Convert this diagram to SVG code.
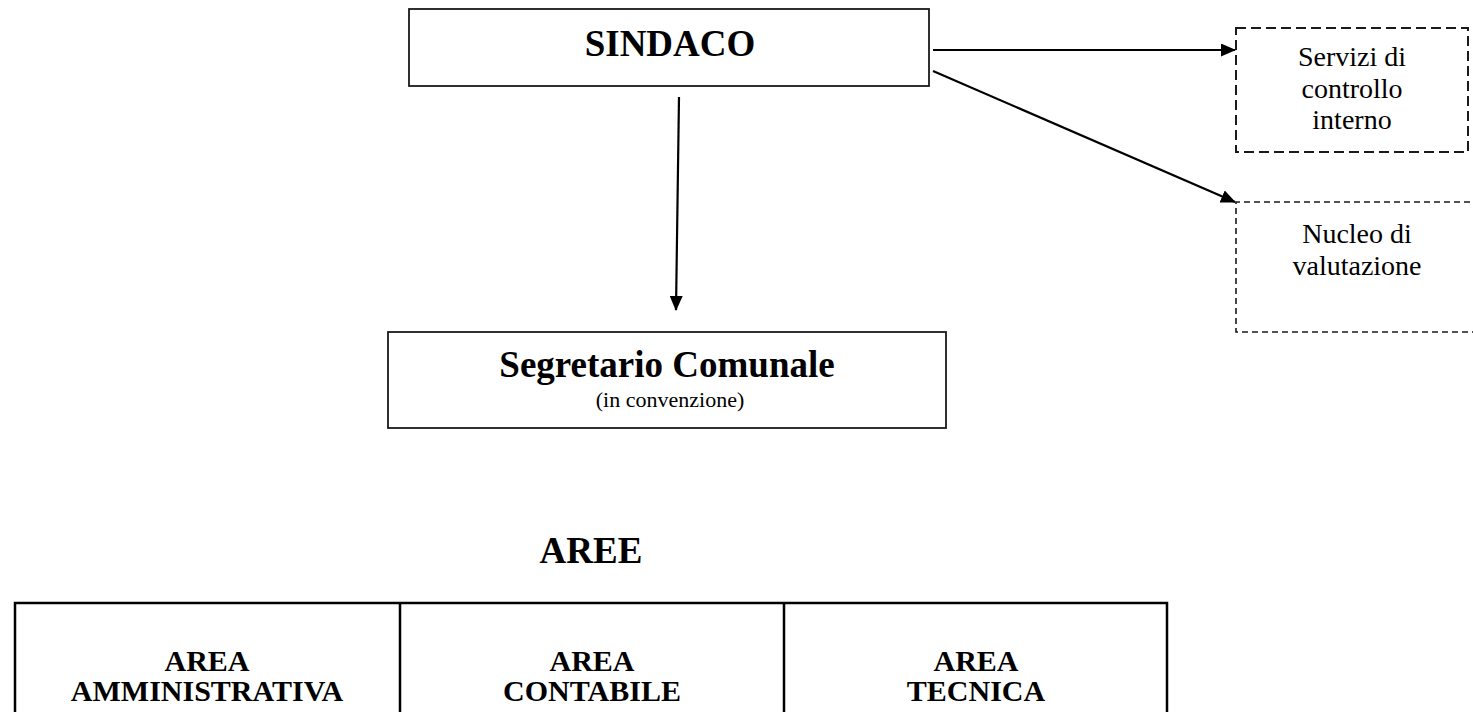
<svg xmlns="http://www.w3.org/2000/svg" width="1473" height="712" viewBox="0 0 1473 712">
<style>
.box{fill:#fff;stroke:#1a1a1a;stroke-width:1.8}
.dash1{fill:none;stroke:#1a1a1a;stroke-width:2;stroke-dasharray:10 5}
.dash2{fill:none;stroke:#1a1a1a;stroke-width:1.6;stroke-dasharray:6 4}
.conn{fill:none;stroke:#000;stroke-width:2.2}
.tb{font-family:"Liberation Serif","Times New Roman",serif;font-weight:bold;fill:#000;text-anchor:middle}
.tr{font-family:"Liberation Serif","Times New Roman",serif;fill:#000;text-anchor:middle}
.grid{fill:none;stroke:#000;stroke-width:2.5}
</style>
<defs>
<marker id="ah" markerWidth="15" markerHeight="13" refX="14" refY="6.5" orient="auto" markerUnits="userSpaceOnUse">
<path d="M0,0 L15,6.5 L0,13 Z" fill="#000"/>
</marker>
</defs>
<rect width="1473" height="712" fill="#fff"/>
<g id="connectors">
<line class="conn" x1="933" y1="50" x2="1235" y2="50" marker-end="url(#ah)"/>
<line class="conn" x1="933" y1="71" x2="1235" y2="202" marker-end="url(#ah)"/>
<line class="conn" x1="679" y1="97" x2="676" y2="310" marker-end="url(#ah)"/>
</g>
<g id="sindaco">
<rect class="box" x="409" y="9" width="520" height="77"/>
<text class="tb" x="670" y="56" font-size="37">SINDACO</text>
</g>
<g id="servizi">
<rect class="dash1" x="1236" y="28" width="232" height="124"/>
<text class="tr" x="1352" y="66" font-size="28">Servizi di</text>
<text class="tr" x="1352" y="98" font-size="28">controllo</text>
<text class="tr" x="1352" y="129" font-size="28">interno</text>
</g>
<g id="nucleo">
<path class="dash2" d="M1480,202 H1236 V332 H1480"/>
<text class="tr" x="1357" y="243" font-size="28">Nucleo di</text>
<text class="tr" x="1357" y="275" font-size="28">valutazione</text>
</g>
<g id="segretario">
<rect class="box" x="388" y="332" width="558" height="96"/>
<text class="tb" x="667" y="377" font-size="37">Segretario Comunale</text>
<text class="tr" x="670" y="407" font-size="22">(in convenzione)</text>
</g>
<g id="aree">
<text class="tb" x="591" y="563" font-size="37">AREE</text>
</g>
<g id="table">
<path class="grid" d="M15,730 V603 H1167 V730 M400,603 V730 M784,603 V730"/>
</g>
<g id="area-amministrativa">
<text class="tb" x="207" y="671" font-size="30">AREA</text>
<text class="tb" x="207" y="701" font-size="30">AMMINISTRATIVA</text>
</g>
<g id="area-contabile">
<text class="tb" x="592" y="671" font-size="30">AREA</text>
<text class="tb" x="592" y="701" font-size="30">CONTABILE</text>
</g>
<g id="area-tecnica">
<text class="tb" x="976" y="671" font-size="30">AREA</text>
<text class="tb" x="976" y="701" font-size="30">TECNICA</text>
</g>
</svg>
